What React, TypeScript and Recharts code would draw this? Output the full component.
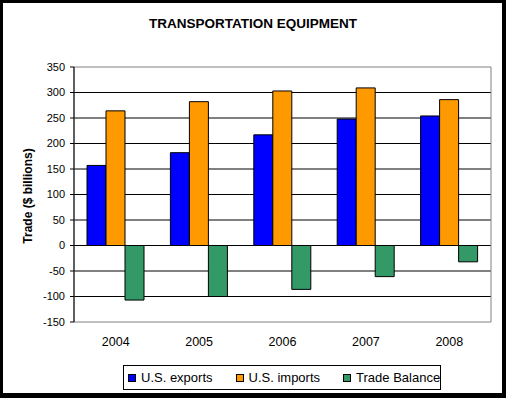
import React from "react";
import {
  BarChart,
  Bar,
  XAxis,
  YAxis,
  CartesianGrid,
  ReferenceArea,
} from "recharts";

const years = ["2004", "2005", "2006", "2007", "2008"];
const exportsValues = [157, 182, 217, 248, 254];
const importsValues = [264, 282, 303, 309, 286];
const balanceValues = [-107, -100, -86, -61, -32];
const yTicks = [-150, -100, -50, 0, 50, 100, 150, 200, 250, 300, 350];
const gridValues = [-100, -50, 0, 50, 100, 150, 200, 250, 300];

const series = [
  { key: "exports", name: "U.S. exports", color: "#0000FF" },
  { key: "imports", name: "U.S. imports", color: "#FF9900" },
  { key: "balance", name: "Trade Balance", color: "#339966" },
];

const FONT = '"Liberation Sans", Arial, sans-serif';

const data = years.map((year, i) => ({
  year,
  exports: exportsValues[i],
  imports: importsValues[i],
  balance: balanceValues[i],
}));

export default function App() {
  return (
    <div
      style={{
        position: "absolute",
        left: 0,
        top: 0,
        width: 506,
        height: 398,
        boxSizing: "border-box",
        borderStyle: "solid",
        borderColor: "#000",
        borderWidth: "3px 4px 5px 3px",
        background: "#fff",
        fontFamily: FONT,
      }}
    >
      <div style={{ position: "absolute", left: -3, top: -3, width: 506, height: 398 }}>
        <div
          style={{
            position: "absolute",
            left: 0,
            top: 16,
            width: 506,
            textAlign: "center",
            fontWeight: "bold",
            fontSize: 13.5,
            lineHeight: "16px",
          }}
        >
          TRANSPORTATION EQUIPMENT
        </div>
        <div
          style={{
            position: "absolute",
            left: 28,
            top: 196,
            transform: "translate(-50%, -50%) rotate(-90deg)",
            whiteSpace: "nowrap",
            fontWeight: "bold",
            fontSize: 12,
            lineHeight: "14px",
          }}
        >
          Trade ($ billions)
        </div>
        <BarChart
          width={506}
          height={398}
          data={data}
          barGap={0}
          margin={{ top: 67, right: 15, bottom: 36, left: 0 }}
        >
          <CartesianGrid
            vertical={false}
            stroke="#000"
            horizontalValues={gridValues}
          />
          <ReferenceArea y1={-150} y2={350} fill="none" stroke="#808080" strokeWidth={1} />
          <XAxis
            dataKey="year"
            height={40}
            axisLine={false}
            tickLine={false}
            tickSize={0}
            tickMargin={15}
            tick={{ fontSize: 12.5, fill: "#000", fontFamily: FONT }}
          />
          <YAxis
            width={74}
            domain={[-150, 350]}
            ticks={yTicks}
            interval={0}
            tickSize={4}
            tickMargin={5}
            axisLine={{ stroke: "#000" }}
            tickLine={{ stroke: "#000" }}
            tick={{ fontSize: 11, fill: "#000", fontFamily: FONT }}
          />
          {series.map((s) => (
            <Bar
              key={s.key}
              dataKey={s.key}
              name={s.name}
              fill={s.color}
              stroke="#000"
              strokeWidth={1}
              barSize={19}
              isAnimationActive={false}
            />
          ))}
        </BarChart>
        <div
          style={{
            position: "absolute",
            left: 123,
            top: 365,
            width: 318,
            height: 25,
            boxSizing: "border-box",
            border: "1px solid #000",
            display: "flex",
            alignItems: "center",
            paddingLeft: 4,
            gap: 23,
            fontSize: 13,
            whiteSpace: "nowrap",
          }}
        >
          {series.map((s) => (
            <div key={s.key} style={{ display: "flex", alignItems: "center", flexShrink: 0 }}>
              <span
                style={{
                  display: "inline-block",
                  width: 8,
                  height: 8,
                  boxSizing: "border-box",
                  border: "1px solid #000",
                  background: s.color,
                  marginRight: 5,
                }}
              />
              <span style={{ lineHeight: "15px" }}>{s.name}</span>
            </div>
          ))}
        </div>
      </div>
    </div>
  );
}
